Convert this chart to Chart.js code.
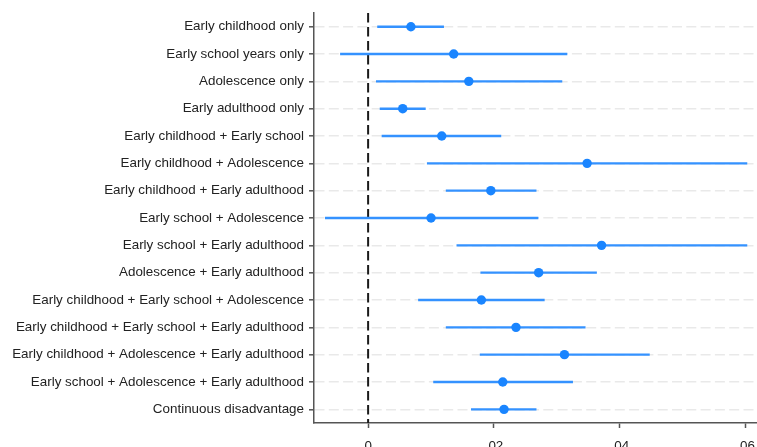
<!DOCTYPE html>
<html>
<head>
<meta charset="utf-8">
<script src="https://cdn.jsdelivr.net/npm/chart.js@4"></script>
<style>
    html, body { margin: 0; padding: 0; background: #fff; overflow: hidden; }
    #wrap { position: relative; width: 757px; height: 462px; }
</style>
</head>
<body>
<div id="wrap"><canvas id="coefPlot"></canvas></div>
<script>
// 類別（由上而下）
const categories = [
    'Early childhood only',
    'Early school years only',
    'Adolescence only',
    'Early adulthood only',
    'Early childhood + Early school',
    'Early childhood + Adolescence',
    'Early childhood + Early adulthood',
    'Early school + Adolescence',
    'Early school + Early adulthood',
    'Adolescence + Early adulthood',
    'Early childhood + Early school + Adolescence',
    'Early childhood + Early school + Early adulthood',
    'Early childhood + Adolescence + Early adulthood',
    'Early school + Adolescence + Early adulthood',
    'Continuous disadvantage'
];

// 點估計與信賴區間
const estimates = [0.0068, 0.0136, 0.0160, 0.0055, 0.0117, 0.0348, 0.0195, 0.0100, 0.0371, 0.0271, 0.0180, 0.0235, 0.0312, 0.0214, 0.0216];
const lower     = [0.0015, -0.0044, 0.0013, 0.0019, 0.0022, 0.0094, 0.0124, -0.0068, 0.0141, 0.0179, 0.0080, 0.0124, 0.0178, 0.0104, 0.0164];
const upper     = [0.0120, 0.0316, 0.0308, 0.0091, 0.0211, 0.0602, 0.0267, 0.0270, 0.0602, 0.0363, 0.0280, 0.0345, 0.0447, 0.0325, 0.0267];

// X 軸刻度
const xTickValues = [0, 0.02, 0.04, 0.06];
const xTickLabels = ['0', '.02', '.04', '.06'];
const xMin = -0.0086;
const xMax = 0.0618;

const markerColor = 'rgb(26, 133, 255)';
const ciColor = 'rgb(52, 146, 255)';
const axisColor = '#555';
const textColor = '#222';
const labelFont = { family: '"Liberation Sans", Arial, sans-serif', size: 13.4 };

// 零參考線（黑色虛線）
const zeroLine = {
    id: 'zeroLine',
    beforeDatasetsDraw(chart) {
        const { ctx, chartArea, scales } = chart;
        const x = scales.x.getPixelForValue(0);
        ctx.save();
        ctx.strokeStyle = '#1a1a1a';
        ctx.lineWidth = 2;
        ctx.setLineDash([9.5, 4.5]);
        ctx.beginPath();
        ctx.moveTo(x, chartArea.top);
        ctx.lineTo(x, chartArea.bottom);
        ctx.stroke();
        ctx.restore();
    }
};

const ctx = document.getElementById('coefPlot').getContext('2d');
new Chart(ctx, {
    type: 'bar',
    data: {
        labels: categories,
        datasets: [
            {
                type: 'line',
                label: 'estimate',
                data: estimates,
                indexAxis: 'y',
                showLine: false,
                pointRadius: 4.7,
                pointBackgroundColor: markerColor,
                pointBorderWidth: 0,
                clip: false,
                order: 0
            },
            {
                type: 'bar',
                label: 'ci',
                data: lower.map((lo, i) => [lo, upper[i]]),
                indexAxis: 'y',
                backgroundColor: ciColor,
                borderWidth: 0,
                barThickness: 1.7,
                order: 1
            }
        ]
    },
    options: {
        indexAxis: 'y',
        responsive: true,
        maintainAspectRatio: false,
        animation: false,
        events: [],
        layout: { autoPadding: false, padding: { left: 10, top: 13, right: 0, bottom: 0 } },
        plugins: {
            legend: { display: false },
            tooltip: { enabled: false }
        },
        scales: {
            y: {
                type: 'category',
                offset: true,
                grid: {
                    offset: false,
                    color: '#e9e9e9',
                    lineWidth: 1.6,
                    tickColor: axisColor,
                    tickLength: 5,
                    tickWidth: 1.5
                },
                border: { color: axisColor, width: 1.5, dash: [10, 4.3] },
                ticks: { color: textColor, font: labelFont, padding: 5 },
                afterFit(scale) { scale.width = 304; }
            },
            x: {
                type: 'linear',
                min: xMin,
                max: xMax,
                grid: {
                    drawOnChartArea: false,
                    tickColor: axisColor,
                    tickLength: 5,
                    tickWidth: 1.5
                },
                border: { color: axisColor, width: 1.5 },
                ticks: {
                    color: textColor,
                    font: labelFont,
                    padding: 10,
                    maxRotation: 0,
                    callback: (value) => {
                        const i = xTickValues.findIndex(v => Math.abs(v - value) < 1e-9);
                        return i >= 0 ? xTickLabels[i] : '';
                    }
                },
                afterBuildTicks(scale) {
                    scale.ticks = xTickValues.map(v => ({ value: v }));
                },
                afterFit(scale) {
                    scale.height = 39;
                    scale.paddingRight = 0;
                    scale.paddingLeft = 0;
                }
            }
        }
    },
    plugins: [zeroLine]
});
</script>
</body>
</html>
